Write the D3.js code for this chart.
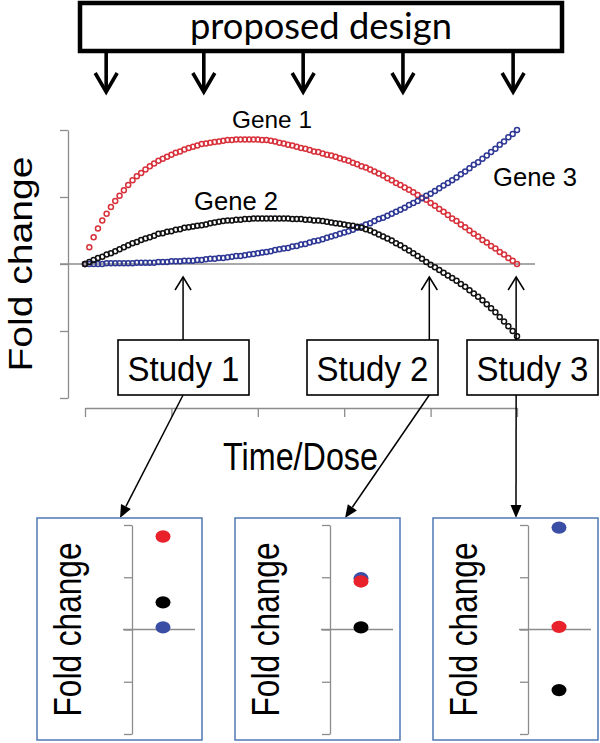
<!DOCTYPE html>
<html>
<head>
<meta charset="utf-8">
<script src="https://cdn.jsdelivr.net/npm/d3@7"></script>
<style>
html,body{margin:0;padding:0;background:#fff;}
svg{display:block;}
text{font-family:"Liberation Sans",Arial,sans-serif;fill:#000;}
</style>
</head>
<body>
<svg id="chart" width="600" height="743"></svg>
<script>
// ---------------- data ----------------
const gene1 = [
  0.00,0.25,0.40,0.53,0.65,0.75,0.85,0.94,1.02,1.10,
  1.18,1.25,1.31,1.36,1.41,1.46,1.50,1.54,1.57,1.60,
  1.63,1.66,1.68,1.71,1.73,1.75,1.77,1.79,1.80,1.81,
  1.82,1.83,1.84,1.85,1.85,1.86,1.86,1.86,1.86,1.86,
  1.86,1.85,1.85,1.84,1.83,1.81,1.80,1.78,1.77,1.75,
  1.73,1.72,1.70,1.68,1.67,1.65,1.63,1.62,1.60,1.58,
  1.56,1.54,1.51,1.49,1.46,1.44,1.41,1.38,1.35,1.32,
  1.28,1.25,1.21,1.18,1.14,1.11,1.07,1.03,0.99,0.96,
  0.91,0.87,0.82,0.78,0.73,0.68,0.64,0.59,0.55,0.50,
  0.45,0.41,0.36,0.32,0.27,0.23,0.18,0.14,0.09,0.05,
  0.00];
const gene2 = [
  0.00,0.03,0.06,0.09,0.11,0.14,0.16,0.19,0.22,0.25,
  0.28,0.31,0.33,0.36,0.38,0.40,0.42,0.45,0.46,0.48,
  0.49,0.51,0.52,0.54,0.55,0.56,0.57,0.58,0.59,0.61,
  0.62,0.63,0.64,0.65,0.65,0.66,0.66,0.67,0.67,0.68,
  0.68,0.68,0.68,0.68,0.68,0.68,0.68,0.68,0.67,0.67,
  0.67,0.66,0.66,0.65,0.65,0.64,0.63,0.62,0.61,0.60,
  0.59,0.58,0.57,0.555,0.54,0.52,0.50,0.47,0.44,0.41,
  0.38,0.35,0.31,0.28,0.24,0.20,0.16,0.12,0.08,0.03,
  -0.01,-0.05,-0.09,-0.13,-0.17,-0.21,-0.25,-0.30,-0.34,-0.39,
  -0.44,-0.49,-0.54,-0.60,-0.66,-0.72,-0.79,-0.86,-0.93,-1.00,
  -1.08];
const gene3 = [
  0.00,0.00,0.00,0.00,0.00,0.01,0.01,0.01,0.01,0.01,
  0.01,0.01,0.02,0.02,0.02,0.02,0.02,0.03,0.03,0.03,
  0.04,0.04,0.04,0.05,0.05,0.05,0.06,0.06,0.07,0.08,
  0.08,0.09,0.09,0.10,0.11,0.12,0.12,0.13,0.14,0.15,
  0.16,0.17,0.18,0.19,0.21,0.22,0.23,0.24,0.26,0.27,
  0.29,0.30,0.32,0.34,0.35,0.37,0.39,0.41,0.43,0.45,
  0.47,0.49,0.51,0.54,0.56,0.59,0.61,0.64,0.67,0.69,
  0.72,0.75,0.78,0.81,0.84,0.88,0.91,0.94,0.98,1.02,
  1.05,1.09,1.13,1.17,1.21,1.25,1.29,1.34,1.38,1.43,
  1.48,1.52,1.57,1.62,1.67,1.72,1.78,1.83,1.89,1.94,
  2.00];
const geneLabels = ["Gene 1", "Gene 2", "Gene 3"];
const designTimes = [0.049, 0.275, 0.505, 0.736, 0.991];
const studyLabels = ["Study 1", "Study 2", "Study 3"];
const studyTimes = [0.227, 0.797, 0.998];
const studyGene1 = [1.78, 0.92, 0.05];
const studyGene2 = [0.52, 0.04, -1.16];
const studyGene3 = [0.04, 0.98, 1.95];
const yTicks = [-2, -1, 0, 1, 2];
const xTicks = [0, 0.2, 0.4, 0.6, 0.8, 1];

// ---------------- setup ----------------
const svg = d3.select("#chart");
const RED = "#d8313b", BLACK = "#111111", BLUE = "#2e3894";
const RED_F = "#e8212b", BLUE_F = "#3a4ea6";
const GRAY = "#8c8c8c";

const nPts = gene1.length;
const tOf = i => i / (nPts - 1);

const x = d3.scaleLinear().domain([0, 1]).range([85, 517]);
const y = d3.scaleLinear().domain([-2, 2]).range([398, 130]);

// ---------------- top "proposed design" box ----------------
svg.append("rect").attr("x", 80).attr("y", 3).attr("width", 482).attr("height", 48)
  .attr("fill", "#fff").attr("stroke", "#000").attr("stroke-width", 4.5);
svg.append("text").attr("x", 321).attr("y", 39).attr("text-anchor", "middle")
  .style("font-family", "Lato, 'Open Sans', sans-serif").style("font-size", "37px")
  .attr("textLength", 262).attr("lengthAdjust", "spacingAndGlyphs")
  .text("proposed design");

const topArrows = svg.append("g").attr("stroke", "#000").attr("stroke-width", 3.6)
  .attr("fill", "none").attr("stroke-linejoin", "miter");
designTimes.forEach(t => {
  const xx = x(t);
  topArrows.append("line").attr("x1", xx).attr("x2", xx).attr("y1", 51).attr("y2", 91);
  topArrows.append("path").attr("d", `M${xx - 11},${73} L${xx},${92} L${xx + 11},${73}`);
});

// ---------------- main axes ----------------
const yAxisG = svg.append("g").attr("transform", "translate(68,0)")
  .call(d3.axisLeft(y).tickValues(yTicks).tickSize(8).tickSizeOuter(0).tickFormat(""));
const xAxisG = svg.append("g").attr("transform", "translate(0,408)")
  .call(d3.axisBottom(x).tickValues(xTicks).tickSize(9).tickSizeOuter(0).tickFormat(""));
[yAxisG, xAxisG].forEach(g => {
  g.selectAll("path,line").attr("stroke", GRAY).attr("stroke-width", 1.3);
});
// zero line
svg.append("line").attr("x1", 60).attr("x2", 535).attr("y1", y(0)).attr("y2", y(0))
  .attr("stroke", GRAY).attr("stroke-width", 1.3);

// axis titles
svg.append("text").attr("transform", `translate(32,${y(0)}) rotate(-90)`)
  .attr("text-anchor", "middle").style("font-size", "34px")
  .attr("textLength", 215).attr("lengthAdjust", "spacingAndGlyphs")
  .text("Fold change");
svg.append("text").attr("x", 223).attr("y", 470)
  .style("font-size", "38px")
  .attr("textLength", 155).attr("lengthAdjust", "spacingAndGlyphs")
  .text("Time/Dose");

// ---------------- gene curves ----------------
const series = [
  {vals: gene1, color: RED},
  {vals: gene3, color: BLUE},
  {vals: gene2, color: BLACK}
];
series.forEach(s => {
  svg.append("g").selectAll("circle").data(s.vals).join("circle")
    .attr("cx", (d, i) => x(tOf(i)))
    .attr("cy", d => y(d))
    .attr("r", 2.5)
    .attr("fill", "none")
    .attr("stroke", s.color)
    .attr("stroke-width", 1.5);
});

// gene labels
svg.append("text").attr("x", 232).attr("y", 128).style("font-size", "24px")
  .attr("textLength", 80).attr("lengthAdjust", "spacingAndGlyphs").text(geneLabels[0]);
svg.append("text").attr("x", 194).attr("y", 210).style("font-size", "25px")
  .attr("textLength", 84).attr("lengthAdjust", "spacingAndGlyphs").text(geneLabels[1]);
svg.append("text").attr("x", 493).attr("y", 186).style("font-size", "25.5px")
  .attr("textLength", 84).attr("lengthAdjust", "spacingAndGlyphs").text(geneLabels[2]);

// ---------------- study arrows & boxes ----------------
const boxLefts = [118, 307, 467];
const boxW = 131, boxTop = 340, boxBot = 395;
const panelLefts = [37, 235, 433];
const panelW = 165, panelTop = 518, panelBot = 740;
const targetX = [120, 345, 516];

const arrowG = svg.append("g").attr("stroke", "#000").attr("stroke-width", 1.5).attr("fill", "none");
studyTimes.forEach((t, k) => {
  const xx = x(t);
  const tipY = 277;
  arrowG.append("line").attr("x1", xx).attr("x2", xx).attr("y1", tipY).attr("y2", boxTop);
  arrowG.append("path").attr("d", `M${xx - 8},${tipY + 13} L${xx},${tipY} L${xx + 8},${tipY + 13}`);
  // lower arrow to panel
  const x0 = xx, y0 = boxBot, x1 = targetX[k], y1 = panelTop;
  const dx = x1 - x0, dy = y1 - y0, L = Math.hypot(dx, dy);
  const ux = dx / L, uy = dy / L;
  const hl = 13, hw = 5.5;
  const bx = x1 - ux * hl, by = y1 - uy * hl;
  arrowG.append("line").attr("x1", x0).attr("y1", y0).attr("x2", bx).attr("y2", by);
  svg.append("path")
    .attr("d", `M${x1},${y1} L${bx - uy * hw},${by + ux * hw} L${bx + uy * hw},${by - ux * hw} Z`)
    .attr("fill", "#000");
});

studyLabels.forEach((lab, k) => {
  svg.append("rect").attr("x", boxLefts[k]).attr("y", boxTop).attr("width", boxW)
    .attr("height", boxBot - boxTop).attr("fill", "#fff").attr("stroke", "#000").attr("stroke-width", 1.6);
  svg.append("text").attr("x", boxLefts[k] + boxW / 2).attr("y", 381)
    .attr("text-anchor", "middle").style("font-size", "35px")
    .attr("textLength", 112).attr("lengthAdjust", "spacingAndGlyphs")
    .text(lab);
});

// ---------------- bottom panels ----------------
const yp = d3.scaleLinear().domain([-2, 2]).range([734, 525]);
studyLabels.forEach((lab, k) => {
  const L = panelLefts[k];
  svg.append("rect").attr("x", L).attr("y", panelTop).attr("width", panelW)
    .attr("height", panelBot - panelTop).attr("fill", "none")
    .attr("stroke", "#5a80b8").attr("stroke-width", 1.6);
  const ax = L + 95;
  const g = svg.append("g").attr("transform", `translate(${ax},0)`)
    .call(d3.axisLeft(yp).tickValues(yTicks).tickSize(8).tickSizeOuter(0).tickFormat(""));
  g.selectAll("path,line").attr("stroke", GRAY).attr("stroke-width", 1.3);
  svg.append("line").attr("x1", ax - 9).attr("x2", ax + 63).attr("y1", yp(0)).attr("y2", yp(0))
    .attr("stroke", GRAY).attr("stroke-width", 1.3);
  svg.append("text").attr("transform", `translate(${L + 44},${yp(0)}) rotate(-90)`)
    .attr("text-anchor", "middle").style("font-size", "38px")
    .attr("textLength", 174).attr("lengthAdjust", "spacingAndGlyphs")
    .text("Fold change");
  const px = ax + 31;
  const pts = [
    {v: studyGene3[k], c: BLUE_F},
    {v: studyGene1[k], c: RED_F},
    {v: studyGene2[k], c: "#000"}
  ];
  svg.append("g").selectAll("ellipse").data(pts).join("ellipse")
    .attr("cx", px).attr("cy", d => yp(d.v)).attr("rx", 7.5).attr("ry", 6.2)
    .attr("fill", d => d.c);
});
</script>
</body>
</html>
